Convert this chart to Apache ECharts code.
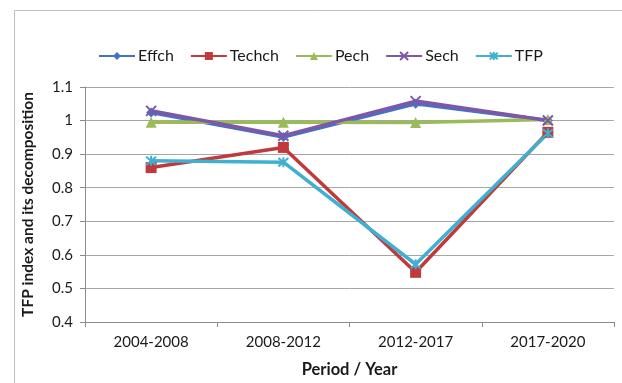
<!DOCTYPE html>
<html><head><meta charset="utf-8">
<script src="https://cdn.jsdelivr.net/npm/echarts@6/dist/echarts.min.js"></script>
<style>html,body{margin:0;padding:0;background:#fff}#c{width:622px;height:383px}</style>
</head><body><div id="c"></div>
<script>
const categories = ['2004-2008', '2008-2012', '2012-2017', '2017-2020'];
const effch = [1.024, 0.951, 1.050, 1.000];
const techch = [0.860, 0.920, 0.548, 0.965];
const pech = [0.995, 0.995, 0.994, 1.003];
const sech = [1.029, 0.955, 1.058, 1.000];
const tfp = [0.880, 0.876, 0.572, 0.962];
const yTicks = [0.4, 0.5, 0.6, 0.7, 0.8, 0.9, 1.0, 1.1];

const FONT = 'Lato, "Open Sans", sans-serif';
const X_SYM = 'path://M0,0L10,10M10,0L0,10';
const AST_SYM = 'path://M0,0L10,10M10,0L0,10M5,-1L5,11';

function ser(name, data, color, symbol, size, stroke) {
  return {
    name: name, type: 'line', data: data,
    symbol: symbol, symbolSize: size,
    lineStyle: { color: color, width: 3.5 },
    itemStyle: stroke ? { color: color, borderColor: color, borderWidth: 2 } : { color: color },
    emphasis: { disabled: true },
    animation: false
  };
}

const chart = echarts.init(document.getElementById('c'), null, { renderer: 'canvas' });
chart.setOption({
  backgroundColor: '#fff',
  animation: false,
  graphic: [{
    type: 'rect', left: 12, top: 8, shape: { width: 640, height: 420 },
    style: { fill: 'none', stroke: '#bfbfbf', lineWidth: 1 }, silent: true, z: -1
  }],
  legend: {
    left: 93, top: 43,
    itemWidth: 36, itemHeight: 10, itemGap: 16,
    textStyle: { fontFamily: FONT, fontSize: 16, color: '#1a1a1a', padding: [0, 0, 0, -2] },
    data: ['Effch', 'Techch', 'Pech', 'Sech', 'TFP']
  },
  grid: { left: 85, right: 8, top: 87, bottom: 58, containLabel: false },
  xAxis: {
    type: 'category', data: categories, boundaryGap: true,
    name: 'Period / Year', nameLocation: 'middle', nameGap: 39,
    nameTextStyle: { fontFamily: FONT, fontSize: 16.5, fontWeight: 'bold', color: '#1a1a1a' },
    axisLine: { lineStyle: { color: '#8c8c8c', width: 1 } },
    axisTick: { show: true, length: 5, lineStyle: { color: '#8c8c8c' } },
    axisLabel: { fontFamily: FONT, fontSize: 15, color: '#1a1a1a', margin: 13 }
  },
  yAxis: {
    type: 'value', min: 0.4, max: 1.1, interval: 0.1,
    name: 'TFP index and its decomposition', nameLocation: 'middle', nameGap: 49,
    nameTextStyle: { fontFamily: FONT, fontSize: 15.5, fontWeight: 'bold', color: '#1a1a1a' },
    axisLine: { show: true, lineStyle: { color: '#8c8c8c', width: 1 } },
    axisTick: { show: true, length: 5, lineStyle: { color: '#8c8c8c' } },
    splitLine: { show: true, lineStyle: { color: '#a6a6a6', width: 1 } },
    axisLabel: {
      fontFamily: FONT, fontSize: 15, color: '#1a1a1a', margin: 12,
      formatter: function (v) {
        const t = yTicks.find(function (x) { return Math.abs(x - v) < 1e-6; });
        return t === undefined ? '' : String(t);
      }
    }
  },
  series: [
    ser('Effch', effch, '#4472C4', 'diamond', 10, false),
    ser('Techch', techch, '#C0393B', 'rect', 11, false),
    ser('Pech', pech, '#9BBB59', 'triangle', 11, false),
    ser('Sech', sech, '#7E57A8', X_SYM, 10, true),
    ser('TFP', tfp, '#3FB0CF', AST_SYM, 10, true)
  ]
});
</script>
</body></html>
